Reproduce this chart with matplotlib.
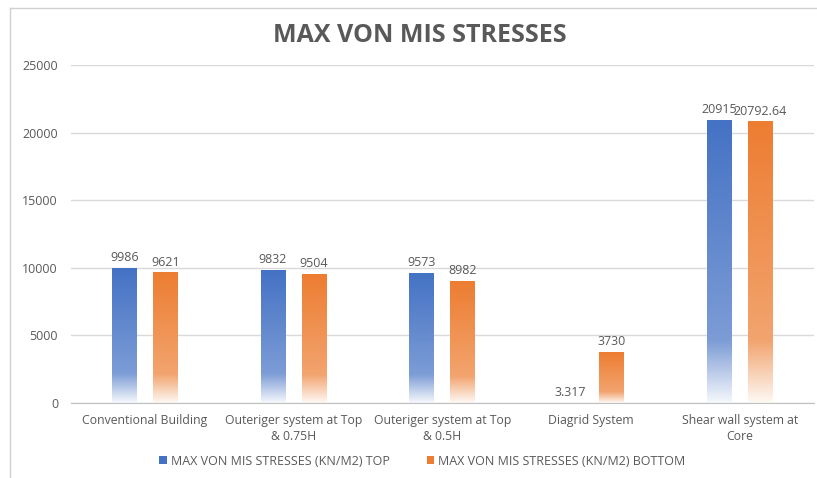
import numpy as np
import matplotlib.pyplot as plt
from matplotlib.colors import LinearSegmentedColormap, to_rgb
from matplotlib.lines import Line2D
from matplotlib.patches import Patch

plt.rcParams['font.family'] = ['Open Sans', 'DejaVu Sans']

# data
categories = ['Conventional Building', 'Outeriger system at Top\n& 0.75H',
              'Outeriger system at Top\n& 0.5H', 'Diagrid System',
              'Shear wall system at\nCore']
top_vals = [9986, 9832, 9573, 3.317, 20915]
bottom_vals = [9621, 9504, 8982, 3730, 20792.64]
series_names = ['MAX VON MIS STRESSES (KN/M2) TOP', 'MAX VON MIS STRESSES (KN/M2) BOTTOM']
series_colors = ['#4472C4', '#ED7D31']

grey = '#595959'


def fade_cmap(color):
    # excel style gradient: solid at top, washes out to white near the base
    c = np.array(to_rgb(color))
    w = np.ones(3)
    stops = [(0.0, c * 0.05 + w * 0.95),
             (0.22, c * 0.7 + w * 0.3),
             (1.0, c)]
    return LinearSegmentedColormap.from_list('fade', stops)


fig = plt.figure(figsize=(8.17, 4.78), dpi=100)
ax = fig.add_axes([0.0863, 0.157, 0.91, 0.707])

x = np.arange(len(categories))
width = 0.168
offset = 0.138

grad = np.linspace(0, 1, 256).reshape(-1, 1)
for vals, dx, col in [(top_vals, -offset, series_colors[0]), (bottom_vals, offset, series_colors[1])]:
    bars = ax.bar(x + dx, vals, width, color='none', edgecolor='none')
    cmap = fade_cmap(col)
    for b, v in zip(bars, vals):
        if v > 50:
            ax.imshow(grad, cmap=cmap, origin='lower', aspect='auto',
                      extent=[b.get_x(), b.get_x() + b.get_width(), 0, v], zorder=2)
        ax.annotate('{:.10g}'.format(v), (b.get_x() + b.get_width() / 2, v),
                    xytext=(0, 3), textcoords='offset points', ha='center', va='bottom',
                    fontsize=9, color=grey, zorder=3)

ax.set_xlim(-0.5, len(categories) - 0.5)
ax.set_ylim(0, 25000)
ax.set_yticks(np.arange(0, 25001, 5000))
ax.set_xticks(x)
ax.set_xticklabels(categories, fontsize=8.8, color=grey, linespacing=1.25)
ax.tick_params(axis='y', labelsize=9, labelcolor=grey, length=0, pad=9)
ax.tick_params(axis='x', length=0, pad=8)
ax.grid(axis='y', color='#D9D9D9', linewidth=1)
ax.set_axisbelow(True)
for s in ['top', 'right', 'left']:
    ax.spines[s].set_visible(False)
ax.spines['bottom'].set_color('#BFBFBF')

fig.text(0.514, 0.925, 'MAX VON MIS STRESSES', ha='center', va='center',
         fontsize=18, fontweight='bold', color=grey)

handles = [Patch(facecolor=c, edgecolor='none') for c in series_colors]
fig.legend(handles, series_names, loc='center', bbox_to_anchor=(0.517, 0.035), ncol=2,
           frameon=False, fontsize=9, labelcolor=grey, handlelength=0.6, handleheight=0.6,
           handletextpad=0.3, columnspacing=3)

# chart frame (top and left edges visible)
fig.add_artist(Line2D([0.012, 0.012], [0, 0.983], color='#D0D0D0', lw=1))
fig.add_artist(Line2D([0.012, 1], [0.983, 0.983], color='#D0D0D0', lw=1))

fig.savefig('out.png', dpi=100)
